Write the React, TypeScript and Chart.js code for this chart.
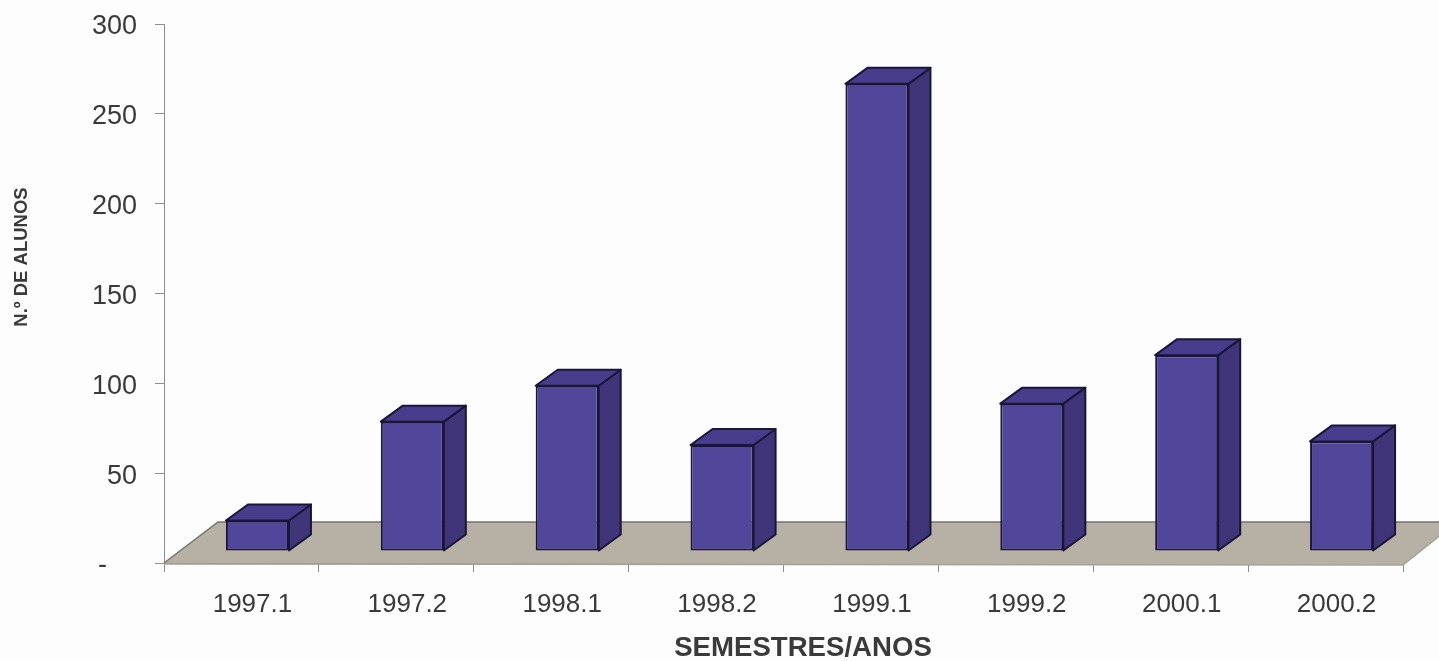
import React, { useEffect, useRef } from "react";
import { Chart, registerables } from "chart.js";

Chart.register(...registerables);

const semesters = ["1997.1", "1997.2", "1998.1", "1998.2", "1999.1", "1999.2", "2000.1", "2000.2"];
const students = [17, 72, 92, 59, 260, 82, 109, 61];
const yMax = 300;
const yStep = 50;
const xTitle = "SEMESTRES/ANOS";
const yTitle = "N.º DE ALUNOS";

const FONT = "'Liberation Sans', Arial, sans-serif";
const BG = "#fdfdfd";
const FRONT = "#50469a";
const TOP = "#483d8c";
const SIDE = "#3f3578";
const EDGE = "#1a163a";
const FLOOR = "#b6b0a5";
const AXIS = "#8e8e8e";
const TEXT = "#3b3a3a";

const BAR_SHIFT_X = 16;
const BAR_SHIFT_Y = -12;
const DEPTH_X = 22;
const DEPTH_Y = 16;
const FLOOR_X = 54;
const FLOOR_Y = 41;

function poly(ctx: CanvasRenderingContext2D, pts: number[][], fill: string, stroke?: string, lw = 2) {
  ctx.beginPath();
  pts.forEach(([x, y], i) => (i ? ctx.lineTo(x, y) : ctx.moveTo(x, y)));
  ctx.closePath();
  ctx.fillStyle = fill;
  ctx.fill();
  if (stroke) {
    ctx.strokeStyle = stroke;
    ctx.lineWidth = lw;
    ctx.lineJoin = "round";
    ctx.stroke();
  }
}

const bars3d = {
  id: "bars3d",
  beforeDatasetsDraw(chart: any) {
    const { ctx, chartArea: a } = chart;
    const y0 = chart.scales.y.getPixelForValue(0);
    ctx.save();
    poly(ctx, [
      [a.left, y0],
      [a.left + FLOOR_X, y0 - FLOOR_Y],
      [a.right + FLOOR_X, y0 - FLOOR_Y],
      [a.right, y0 + 2],
    ], FLOOR);
    ctx.strokeStyle = "#77736c";
    ctx.lineWidth = 1.5;
    ctx.beginPath();
    ctx.moveTo(a.left, y0);
    ctx.lineTo(a.left + FLOOR_X, y0 - FLOOR_Y);
    ctx.lineTo(a.right + FLOOR_X, y0 - FLOOR_Y);
    ctx.stroke();
    ctx.strokeStyle = "#a5a297";
    ctx.beginPath();
    ctx.moveTo(a.left, y0 + 1);
    ctx.lineTo(a.right, y0 + 2);
    ctx.lineTo(a.right + FLOOR_X, y0 - FLOOR_Y);
    ctx.stroke();
    ctx.restore();

    ctx.save();
    ctx.translate(BAR_SHIFT_X, BAR_SHIFT_Y);
    chart.getDatasetMeta(0).data.forEach((bar: any) => {
      const half = bar.width / 2;
      const l = bar.x - half;
      const r = bar.x + half;
      const t = bar.y;
      const b = bar.base;
      poly(ctx, [[r, t], [r + DEPTH_X, t - DEPTH_Y], [r + DEPTH_X, b - DEPTH_Y], [r, b]], SIDE, EDGE);
      poly(ctx, [[l, t], [l + DEPTH_X, t - DEPTH_Y], [r + DEPTH_X, t - DEPTH_Y], [r, t]], TOP, EDGE);
    });
  },
  afterDatasetsDraw(chart: any) {
    chart.ctx.restore();
  },
};

const axisTitles = {
  id: "axisTitles",
  afterDraw(chart: any) {
    const { ctx } = chart;
    ctx.save();
    ctx.fillStyle = TEXT;
    ctx.textAlign = "center";
    ctx.textBaseline = "middle";
    ctx.font = `bold 27.6px ${FONT}`;
    ctx.fillText(xTitle, 803, 648);
    ctx.translate(22, 257);
    ctx.rotate(-Math.PI / 2);
    ctx.font = `bold 18.5px ${FONT}`;
    ctx.fillText(yTitle, 0, 0);
    ctx.restore();
  },
};

export default function App() {
  const ref = useRef<HTMLCanvasElement>(null);

  useEffect(() => {
    const chart = new Chart(ref.current!, {
      type: "bar",
      data: {
        labels: semesters,
        datasets: [
          {
            data: students,
            backgroundColor: FRONT,
            borderColor: EDGE,
            borderWidth: 2,
            borderSkipped: false,
            barPercentage: 0.407,
            categoryPercentage: 1,
          },
        ],
      },
      plugins: [bars3d, axisTitles],
      options: {
        responsive: false,
        animation: false,
        layout: { padding: { top: 24, right: 36, left: 0, bottom: 0 } },
        plugins: { legend: { display: false }, tooltip: { enabled: false } },
        scales: {
          x: {
            grid: { drawOnChartArea: false, color: AXIS, tickLength: 9, offset: true },
            border: { color: AXIS, width: 1 },
            ticks: { color: TEXT, font: { family: FONT, size: 26 }, padding: 17, maxRotation: 0, labelOffset: 11 },
            afterFit: (s: any) => {
              s.height = 98;
            },
          },
          y: {
            min: 0,
            max: yMax,
            ticks: {
              stepSize: yStep,
              color: TEXT,
              font: { family: FONT, size: 27 },
              padding: 18,
              labelOffset: 3,
              callback: (v: any) => (v === 0 ? "-\u00a0\u00a0\u00a0\u00a0" : String(v)),
            },
            grid: { drawOnChartArea: false, color: AXIS, tickLength: 9 },
            border: { color: AXIS, width: 1 },
            afterFit: (s: any) => {
              s.width = 164;
              s.paddingTop = 0;
              s.paddingBottom = 0;
            },
          },
        },
      },
    });
    return () => chart.destroy();
  }, []);

  return (
    <div style={{ position: "absolute", left: 0, top: 0, width: 1439, height: 661, background: BG, overflow: "hidden" }}>
      <canvas ref={ref} width={1439} height={661} style={{ display: "block" }} />
    </div>
  );
}
